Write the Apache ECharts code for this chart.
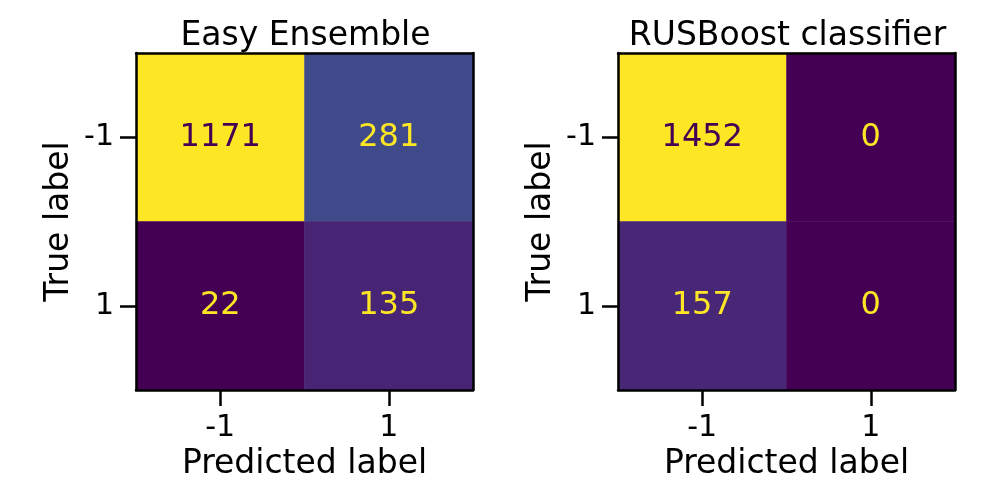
<!DOCTYPE html>
<html>
<head>
<meta charset="utf-8">
<script src="https://cdn.jsdelivr.net/npm/echarts@6/dist/echarts.min.js"></script>
<style>
  html, body { margin: 0; padding: 0; background: #fff; }
  #chart { width: 1000px; height: 500px; }
</style>
</head>
<body>
<div id="chart"></div>
<script>
// labels of the confusion matrices
var classes = ['-1', '1'];
var titles = ['Easy Ensemble', 'RUSBoost classifier'];
// rows = true label, cols = predicted label
var easyMatrix = [[1171, 281], [22, 135]];
var rusMatrix = [[1452, 0], [157, 0]];

var viridis = ['#440154', '#482878', '#3e4989', '#31688e', '#26828e',
               '#1f9e89', '#35b779', '#6ece58', '#b5de2b', '#fde725'];
var font = 'DejaVu Sans';

function cells(m) {
    var flat = [].concat.apply([], m);
    var lo = Math.min.apply(null, flat), hi = Math.max.apply(null, flat);
    var thresh = (lo + hi) / 2;
    var out = [];
    for (var i = 0; i < m.length; i++) {
        for (var j = 0; j < m[i].length; j++) {
            out.push({
                value: [j, i, m[i][j]],
                label: { color: m[i][j] > thresh ? viridis[0] : viridis[9] }
            });
        }
    }
    return { data: out, min: lo, max: hi };
}

var mats = [cells(easyMatrix), cells(rusMatrix)];
var lefts = [136, 618];
var size = 337;

var option = { title: [], grid: [], xAxis: [], yAxis: [], series: [], visualMap: [] };

for (var k = 0; k < 2; k++) {
    option.title.push({
        text: titles[k], left: lefts[k] + size / 2 - 4, top: 15, textAlign: 'center',
        textStyle: { fontFamily: font, fontSize: 33, fontWeight: 'normal', color: '#000' }
    });
    option.grid.push({ left: lefts[k], top: 53, width: size, height: size });
    // bottom axis with ticks
    option.xAxis.push({
        type: 'category', data: classes, gridIndex: k, z: 10,
        name: 'Predicted label', nameLocation: 'middle', nameGap: 55,
        nameTextStyle: { fontFamily: font, fontSize: 33, color: '#000' },
        axisLine: { show: true, lineStyle: { color: '#000', width: 2.5 } },
        axisTick: { show: true, alignWithLabel: true, length: 16, lineStyle: { color: '#000', width: 2.5 } },
        axisLabel: { fontFamily: font, fontSize: 30, color: '#000', margin: 23 },
        splitLine: { show: false }
    });
    // top border
    option.xAxis.push({
        type: 'category', data: classes, gridIndex: k, position: 'top', z: 10,
        axisLine: { show: true, lineStyle: { color: '#000', width: 2.5 } },
        axisTick: { show: false }, axisLabel: { show: false }, splitLine: { show: false }
    });
    option.yAxis.push({
        type: 'category', data: classes, gridIndex: k, inverse: true, z: 10,
        name: 'True label', nameLocation: 'middle', nameGap: 60, nameRotate: 90,
        nameTextStyle: { fontFamily: font, fontSize: 33, color: '#000' },
        axisLine: { show: true, lineStyle: { color: '#000', width: 2.5 } },
        axisTick: { show: true, alignWithLabel: true, length: 16, lineStyle: { color: '#000', width: 2.5 } },
        axisLabel: { fontFamily: font, fontSize: 30, color: '#000', margin: 22 },
        splitLine: { show: false }
    });
    // right border
    option.yAxis.push({
        type: 'category', data: classes, gridIndex: k, inverse: true, position: 'right', z: 10,
        axisLine: { show: true, lineStyle: { color: '#000', width: 2.5 } },
        axisTick: { show: false }, axisLabel: { show: false }, splitLine: { show: false }
    });
    option.visualMap.push({
        show: false, seriesIndex: k, dimension: 2,
        min: mats[k].min, max: mats[k].max,
        inRange: { color: viridis }
    });
    option.series.push({
        type: 'heatmap', xAxisIndex: 2 * k, yAxisIndex: 2 * k,
        data: mats[k].data,
        label: { show: true, fontFamily: font, fontSize: 32 },
        emphasis: { disabled: true }
    });
}

var chart = echarts.init(document.getElementById('chart'), null, { renderer: 'canvas' });
chart.setOption(option);
</script>
</body>
</html>
